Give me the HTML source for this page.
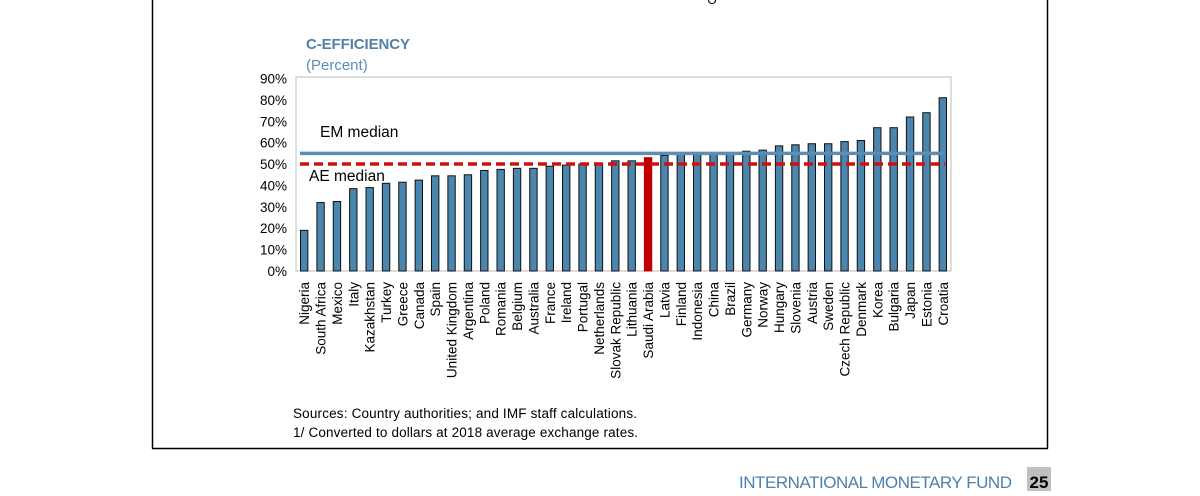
<!DOCTYPE html>
<html><head><meta charset="utf-8"><style>
body{margin:0;width:1200px;height:491px;background:#fff;overflow:hidden;font-family:"Liberation Sans",sans-serif}
</style></head><body>
<svg width="1200" height="491" xmlns="http://www.w3.org/2000/svg">
<line x1="152.5" y1="0" x2="152.5" y2="448.5" stroke="#000" stroke-width="1.5"/>
<line x1="1047.5" y1="0" x2="1047.5" y2="448.5" stroke="#000" stroke-width="1.5"/>
<line x1="152" y1="448.5" x2="1048" y2="448.5" stroke="#000" stroke-width="1.5"/>
<text x="712" y="4" font-size="12" text-anchor="middle">O</text>
<text x="306" y="49" font-size="15" font-weight="bold" fill="#4f81aa" textLength="104">C-EFFICIENCY</text>
<text x="306" y="70" font-size="15" fill="#5b8db5">(Percent)</text>
<rect x="296" y="77" width="655" height="194" fill="none" stroke="#bbb" stroke-width="1"/>
<g id="yaxis"></g><g id="bars"></g><g id="lines"></g><g id="xlabels"></g>
<text x="320" y="137" font-size="15.5" fill="#000">EM median</text>
<text x="309" y="181" font-size="15.5" fill="#000">AE median</text>
<text x="293" y="418" font-size="13.5" fill="#000" textLength="344">Sources: Country authorities; and IMF staff calculations.</text>
<text x="293" y="437" font-size="13.5" fill="#000" textLength="345">1/ Converted to dollars at 2018 average exchange rates.</text>
<text x="739" y="488" font-size="17" fill="#4f81aa" textLength="273">INTERNATIONAL MONETARY FUND</text>
<rect x="1027" y="467" width="24" height="24" fill="#c0c0c0"/>
<text x="1039" y="488" font-size="17" font-weight="bold" text-anchor="middle" fill="#000">25</text>
</svg>
<script>
const categories=["Nigeria","South Africa","Mexico","Italy","Kazakhstan","Turkey","Greece","Canada","Spain","United Kingdom","Argentina","Poland","Romania","Belgium","Australia","France","Ireland","Portugal","Netherlands","Slovak Republic","Lithuania","Saudi Arabia","Latvia","Finland","Indonesia","China","Brazil","Germany","Norway","Hungary","Slovenia","Austria","Sweden","Czech Republic","Denmark","Korea","Bulgaria","Japan","Estonia","Croatia"];
const values=[19,32,32.5,38.5,39,41,41.5,42.5,44.5,44.5,45,47,47.5,48,48,49,49.5,50,50.5,51.5,51.5,53,54,54.5,54.5,54.5,54.5,56,56.5,58.5,59,59.5,59.5,60.5,61,67,67,72,74,81];
const highlight=["Saudi Arabia"];
const emMedian=[55];
const aeMedian=[50];
const yTicks=[0,10,20,30,40,50,60,70,80,90];
const NS="http://www.w3.org/2000/svg";
const x0=296,x1=951,yB=271,yT=78.5;
const y=v=>yB-(v/90)*(yB-yT);
const step=(x1-x0)/categories.length;
const xc=i=>x0+step*(i+0.5);
function mk(t,a,p){const e=document.createElementNS(NS,t);for(const k in a)e.setAttribute(k,a[k]);p.appendChild(e);return e;}
const ya=document.getElementById('yaxis');
yTicks.forEach(t=>{
 const e=mk('text',{x:287,y:y(t)+5,'font-size':13.5,'text-anchor':'end',fill:'#000'},ya);
 e.textContent=t+'%';
 
 
});
const bg=document.getElementById('bars');
const bw=step*0.45;
categories.forEach((c,i)=>{
 const hl=highlight.includes(c);
 const r=mk('rect',{x:xc(i)-bw/2,y:y(values[i]),width:bw,height:yB-y(values[i]),fill:hl?'#c00000':'#4a86ad',stroke:hl?'#c00000':'#111','stroke-width':1},bg);
 
 
});
const lg=document.getElementById('lines');
const em=mk('line',{x1:300,x2:945,y1:y(emMedian[0]),y2:y(emMedian[0]),stroke:'#5b8db5','stroke-width':3.5},lg);


const ae=mk('line',{x1:300,x2:945,y1:y(aeMedian[0]),y2:y(aeMedian[0]),stroke:'#cc1111','stroke-width':3.5,'stroke-dasharray':'9 5'},lg);


const xl=document.getElementById('xlabels');
categories.forEach((c,i)=>{
 const t=mk('text',{x:0,y:0,'font-size':13.5,'text-anchor':'end',fill:'#000',transform:`translate(${xc(i)+5},282) rotate(-90)`},xl);
 t.textContent=c;
 
 
});
</script>
</body></html>
